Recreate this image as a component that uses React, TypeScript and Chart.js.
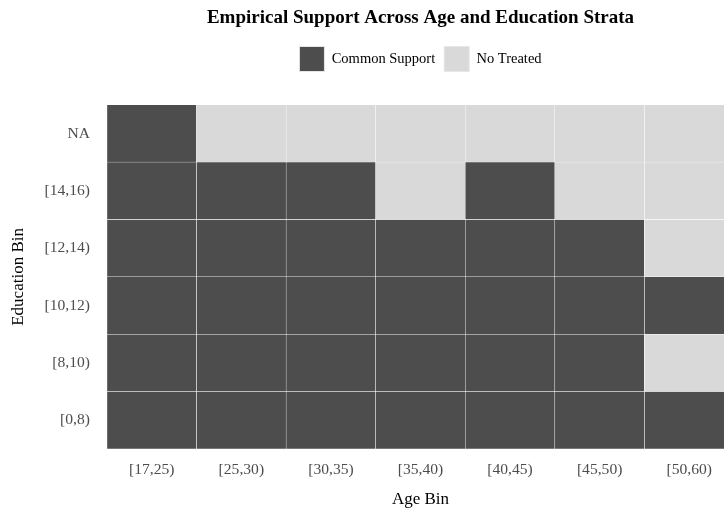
import React, { useEffect, useRef } from 'react';
import { Chart, registerables } from 'chart.js';

Chart.register(...registerables);

// ---- Data ----
const ageBins = ['[17,25)', '[25,30)', '[30,35)', '[35,40)', '[40,45)', '[45,50)', '[50,60)'];
// Education bins from bottom to top
const eduBins = ['[0,8)', '[8,10)', '[10,12)', '[12,14)', '[14,16)', 'NA'];
// 1 = Common Support, 0 = No Treated (one array per education bin, across age bins)
const support0to8 = [1, 1, 1, 1, 1, 1, 1];
const support8to10 = [1, 1, 1, 1, 1, 1, 0];
const support10to12 = [1, 1, 1, 1, 1, 1, 1];
const support12to14 = [1, 1, 1, 1, 1, 1, 0];
const support14to16 = [1, 1, 1, 0, 1, 0, 0];
const supportNA = [1, 0, 0, 0, 0, 0, 0];
const supportRows = [support0to8, support8to10, support10to12, support12to14, support14to16, supportNA];
const legendLabels = ['Common Support', 'No Treated'];

const DARK = '#4d4d4d';
const LIGHT = '#d9d9d9';
const SERIF = '"Liberation Serif", "Times New Roman", "DejaVu Serif", serif';

const alignToPanel = {
  id: 'alignToPanel',
  afterLayout(chart: any) {
    const ca = chart.chartArea;
    const t = chart.titleBlock;
    if (t) {
      t.left = ca.left;
      t.right = ca.right;
      t.width = ca.right - ca.left;
    }
    const lg = chart.legend;
    if (lg) {
      const h = lg.height;
      lg.left = ca.left;
      lg.right = ca.right;
      lg.width = ca.right - ca.left;
      lg.top = 37.5;
      lg.bottom = 37.5 + h;
    }
  },
};

export default function App() {
  const ref = useRef<HTMLCanvasElement>(null);

  useEffect(() => {
    document.body.style.margin = '0';
    document.body.style.overflow = 'hidden';
    const canvas = ref.current;
    if (!canvas) return;

    const datasets = supportRows.map((row, r) => ({
      label: eduBins[r],
      data: row.map(() => 1),
      backgroundColor: row.map((s) => (s ? DARK : LIGHT)),
      borderColor: '#ffffff',
      borderWidth: 0.5,
      borderSkipped: false as const,
      barPercentage: 1,
      categoryPercentage: 1,
    }));

    const chart = new Chart(canvas, {
      type: 'bar',
      data: { labels: ageBins, datasets },
      options: {
        animation: false,
        responsive: false,
        layout: { padding: 0 },
        plugins: {
          title: {
            display: true,
            text: 'Empirical Support Across Age and Education Strata',
            color: '#000',
            font: { family: SERIF, size: 19, weight: 'bold' },
            padding: { top: 7, bottom: 31 },
          },
          legend: {
            display: true,
            position: 'top',
            onClick: () => {},
            labels: {
              boxWidth: 25,
              boxHeight: 25,
              padding: 9,
              color: '#000',
              font: { family: SERIF, size: 14.5 },
              generateLabels: () =>
                legendLabels.map((text, i) => ({
                  text,
                  fillStyle: i === 0 ? DARK : LIGHT,
                  strokeStyle: '#e6e6e6',
                  lineWidth: 1,
                  hidden: false,
                  datasetIndex: i,
                })),
            },
          },
          tooltip: { enabled: false },
        },
        scales: {
          x: {
            type: 'category',
            stacked: true,
            grid: { display: false, drawTicks: false },
            border: { display: false },
            ticks: {
              color: '#4d4d4d',
              font: { family: SERIF, size: 15.6 },
              padding: 12,
              maxRotation: 0,
              autoSkip: false,
            },
            title: {
              display: true,
              text: 'Age Bin',
              color: '#000',
              font: { family: SERIF, size: 17 },
              padding: { top: 0, bottom: 2 },
            },
            afterFit: (s: any) => {
              s.height = 63;
            },
          },
          y: {
            type: 'linear',
            stacked: true,
            min: 0,
            max: 6,
            grid: { display: false, drawTicks: false },
            border: { display: false },
            afterBuildTicks: (s: any) => {
              s.ticks = eduBins.map((_, i) => ({ value: i + 0.5 }));
            },
            ticks: {
              color: '#4d4d4d',
              font: { family: SERIF, size: 15.6 },
              padding: 17,
              callback: (_v: any, i: number) => eduBins[i],
            },
            title: {
              display: true,
              text: 'Education Bin',
              color: '#000',
              font: { family: SERIF, size: 17 },
              padding: { top: 8, bottom: 0 },
            },
            afterFit: (s: any) => {
              s.width = 107;
            },
          },
        },
      } as any,
      plugins: [alignToPanel],
    });

    return () => chart.destroy();
  }, []);

  return (
    <div
      style={{
        position: 'fixed',
        left: 0,
        top: 0,
        width: 724,
        height: 512,
        overflow: 'hidden',
        background: '#ffffff',
      }}
    >
      <canvas ref={ref} width={734} height={512} style={{ display: 'block' }} />
    </div>
  );
}
